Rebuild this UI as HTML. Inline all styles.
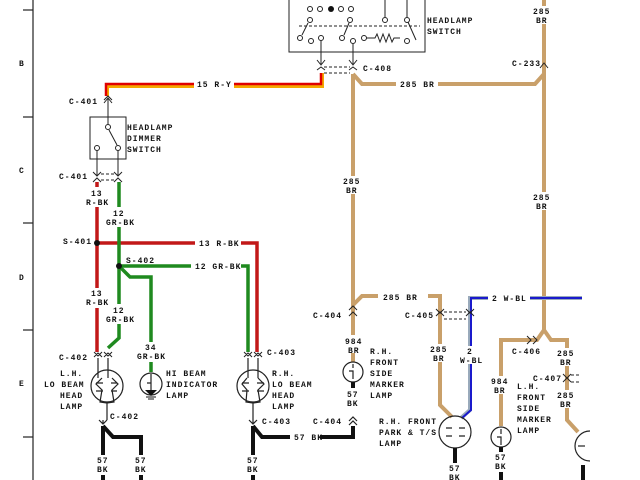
<!DOCTYPE html>
<html><head><meta charset="utf-8"><style>
html,body{margin:0;padding:0;background:#fff}
svg{display:block}
text{font-family:"Liberation Mono",monospace;font-size:8px;font-weight:bold;fill:#111;letter-spacing:1px}
</style></head><body>
<svg width="640" height="480" viewBox="0 0 640 480" xmlns="http://www.w3.org/2000/svg">
<rect width="640" height="480" fill="#fff"/>
<line x1="33" y1="0" x2="33" y2="480" stroke="#222" stroke-width="1.2"/>
<g stroke="#222" stroke-width="1.2">
<line x1="23" y1="10" x2="33" y2="10"/><line x1="23" y1="117" x2="33" y2="117"/>
<line x1="23" y1="223" x2="33" y2="223"/><line x1="23" y1="330" x2="33" y2="330"/>
<line x1="23" y1="437" x2="33" y2="437"/></g>
<text x="19" y="66">B</text><text x="19" y="173">C</text><text x="19" y="280">D</text><text x="19" y="386">E</text>

<g stroke="#222" stroke-width="1" fill="none">
<rect x="289" y="-2" width="136" height="54"/>
<circle cx="310" cy="9" r="2.5"/><circle cx="320" cy="9" r="2.5"/><circle cx="341" cy="9" r="2.5"/><circle cx="351" cy="9" r="2.5"/>
<circle cx="310" cy="20" r="2.5"/><circle cx="350" cy="20" r="2.5"/>
<circle cx="300" cy="38" r="2.5"/><circle cx="311" cy="41" r="2.5"/><circle cx="321" cy="38" r="2.5"/>
<circle cx="342" cy="38" r="2.5"/><circle cx="353" cy="41" r="2.5"/><circle cx="364" cy="38" r="2.5"/>
<circle cx="385" cy="20" r="2.5"/><circle cx="407" cy="20" r="2.5"/><circle cx="407" cy="41" r="2.5"/>
<line x1="302" y1="35" x2="308" y2="23"/><line x1="344" y1="35" x2="349" y2="23"/>
<line x1="385" y1="0" x2="385" y2="17"/><line x1="407" y1="0" x2="407" y2="17"/>
<line x1="408" y1="22" x2="416" y2="40"/>
<path d="M366 38 L375 38 L377 34 L380 42 L383 34 L386 42 L389 34 L392 42 L394 38 L400 38"/>
<line x1="299" y1="26" x2="420" y2="26" stroke-dasharray="3,2"/>
<line x1="321" y1="41" x2="321" y2="64"/><line x1="353" y1="44" x2="353" y2="64"/>
<path d="M317 60 L321 65 L325 60 M349 60 L353 65 L357 60"/>
<path d="M317 70 L321 67 L325 70 M349 70 L353 67 L357 70"/>
<line x1="324" y1="67" x2="350" y2="67" stroke-dasharray="3,2"/><line x1="324" y1="73" x2="350" y2="73" stroke-dasharray="3,2"/>
</g>
<circle cx="331" cy="9" r="3" fill="#111"/>
<text x="427" y="23">HEADLAMP</text><text x="427" y="34">SWITCH</text>
<text x="363" y="71">C-408</text>

<path d="M107 96 L107 86 L322 86 L322 73" fill="none" stroke="#f5a800" stroke-width="4"/>
<path d="M106 96 L106 84 L321 84 L321 73" fill="none" stroke="#e00000" stroke-width="2.5"/>
<rect x="194" y="79" width="40" height="10" fill="#fff"/>
<text x="197" y="87">15 R-Y</text>

<g fill="none" stroke="#c9a06a" stroke-width="4">
<path d="M353 74 L353 298 L353 362"/>
<path d="M353 74 L362 84 L535 84 L544 74 L544 0"/>
<path d="M544 74 L544 330 L537 340 L501 340 L501 426"/>
<path d="M544 330 L551 340 L567 340 L567 420 L578 432"/>
<path d="M353 305 L362 296 L440 296 L440 405 L452 417"/>
</g>
<g fill="#fff"><rect x="342" y="176" width="22" height="18"/><rect x="530" y="6" width="28" height="18"/><rect x="535" y="192" width="20" height="18"/>
<rect x="396" y="79" width="42" height="10"/><rect x="378" y="291" width="50" height="10"/>
<rect x="430" y="344" width="20" height="18"/><rect x="556" y="348" width="20" height="18"/><rect x="556" y="390" width="20" height="18"/>
<rect x="344" y="335" width="20" height="18"/><rect x="491" y="376" width="20" height="18"/></g>
<text x="343" y="184">285</text><text x="346" y="193">BR</text>
<text x="533" y="14">285</text><text x="536" y="23">BR</text>
<text x="533" y="200">285</text><text x="536" y="209">BR</text>
<text x="400" y="87">285 BR</text>
<text x="383" y="300">285 BR</text>
<text x="430" y="352">285</text><text x="433" y="361">BR</text>
<text x="557" y="356">285</text><text x="560" y="365">BR</text>
<text x="557" y="398">285</text><text x="560" y="407">BR</text>
<text x="345" y="344">984</text><text x="348" y="353">BR</text>
<text x="491" y="384">984</text><text x="494" y="393">BR</text>
<path d="M540 68 L544 63 L548 68" fill="none" stroke="#222"/>
<text x="512" y="66">C-233</text>

<path d="M582 298 L470 298 L470 410 L461 418" fill="none" stroke="#9ab" stroke-width="4"/>
<path d="M582 298 L471 298 L471 410 L462 418" fill="none" stroke="#1a1acc" stroke-width="2"/>
<rect x="488" y="293" width="42" height="10" fill="#fff"/>
<text x="492" y="301">2 W-BL</text>
<rect x="462" y="346" width="20" height="18" fill="#fff"/>
<text x="467" y="354">2</text><text x="460" y="363">W-BL</text>

<g fill="none" stroke="#222">
<path d="M436 309 L440 313 L444 309 M436 316 L440 312 L444 316 M466 309 L470 313 L474 309 M466 316 L470 312 L474 316"/>
<line x1="444" y1="312" x2="466" y2="312" stroke-dasharray="3,2"/><line x1="444" y1="319" x2="466" y2="319" stroke-dasharray="3,2"/>
<path d="M349 310 L353 306 L357 310 M349 316 L353 312 L357 316"/>
<path d="M527 336 L531 340 L527 344 M533 336 L537 340 L533 344"/>
<path d="M563 374 L567 378 L571 374 M563 382 L567 378 L571 382"/>
<line x1="571" y1="375" x2="580" y2="375" stroke-dasharray="3,2"/><line x1="571" y1="382" x2="580" y2="382" stroke-dasharray="3,2"/>
</g>
<text x="405" y="318">C-405</text><text x="313" y="318">C-404</text>
<text x="512" y="354">C-406</text><text x="533" y="381">C-407</text>

<g stroke="#222" stroke-width="1" fill="none">
<rect x="90" y="117" width="36" height="42"/>
<circle cx="108" cy="127" r="2.5"/><circle cx="97" cy="148" r="2.5"/><circle cx="118" cy="148" r="2.5"/>
<line x1="109" y1="130" x2="117" y2="145"/>
<line x1="108" y1="124" x2="108" y2="98"/><path d="M104 103 L108 98 L112 103 M104 100 L108 96 L112 100"/>
<line x1="97" y1="151" x2="97" y2="176"/><line x1="118" y1="151" x2="118" y2="176"/>
<path d="M93 172 L97 176 L101 172 M114 172 L118 176 L122 172 M93 182 L97 178 L101 182 M114 182 L118 178 L122 182"/>
<line x1="101" y1="174" x2="114" y2="174" stroke-dasharray="3,2"/><line x1="101" y1="180" x2="114" y2="180" stroke-dasharray="3,2"/>
</g>
<text x="127" y="130">HEADLAMP</text><text x="127" y="141">DIMMER</text><text x="127" y="152">SWITCH</text>
<text x="69" y="104">C-401</text><text x="59" y="179">C-401</text>

<g fill="none" stroke-width="3.5">
<path d="M97 182 L97 352" stroke="#c21818"/>
<path d="M97 243 L257 243 L257 352" stroke="#c21818"/>
<path d="M119 182 L119 338 L108 348" stroke="#1f8a1f"/>
<path d="M119 266 L248 266 L248 352" stroke="#1f8a1f"/>
<path d="M119 266 L130 277 L151 277 L151 372" stroke="#1f8a1f"/>
</g>
<circle cx="97" cy="243" r="3" fill="#111"/><circle cx="119" cy="266" r="3" fill="#111"/>
<g fill="#fff"><rect x="86" y="187" width="22" height="20"/><rect x="108" y="207" width="26" height="20"/>
<rect x="195" y="238" width="46" height="10"/><rect x="191" y="261" width="50" height="10"/>
<rect x="86" y="288" width="22" height="20"/><rect x="108" y="304" width="26" height="20"/><rect x="140" y="342" width="24" height="20"/></g>
<text x="91" y="196">13</text><text x="86" y="205">R-BK</text>
<text x="113" y="216">12</text><text x="106" y="225">GR-BK</text>
<text x="199" y="246">13 R-BK</text><text x="195" y="269">12 GR-BK</text>
<text x="91" y="296">13</text><text x="86" y="305">R-BK</text>
<text x="113" y="313">12</text><text x="106" y="322">GR-BK</text>
<text x="145" y="350">34</text><text x="137" y="359">GR-BK</text>
<text x="63" y="244">S-401</text><text x="126" y="263">S-402</text>

<g fill="none" stroke="#222">
<path d="M94 352 L98 356 L102 352 M104 352 L108 356 L112 352 M94 357 L98 353 L102 357 M104 357 L108 353 L112 357"/>
<path d="M244 352 L248 356 L252 352 M254 352 L258 356 L262 352 M244 357 L248 353 L252 357 M254 357 L258 353 L262 357"/>
</g>
<text x="59" y="360">C-402</text><text x="267" y="355">C-403</text>

<g fill="none" stroke="#222" stroke-width="1.2">
<circle cx="107" cy="386" r="16"/><circle cx="253" cy="386" r="16"/>
<circle cx="151" cy="384" r="11"/><circle cx="353" cy="372" r="10"/>
<circle cx="455" cy="432" r="16"/><circle cx="501" cy="437" r="10"/>
<path d="M98 358 L98 378 M108 358 L108 378 M102 378 L96 384 L102 390 L100 402 L107 403 M112 378 L118 384 L112 390 L114 402 L107 403 L107 420"/>
<path d="M248 358 L248 378 M258 358 L258 378 M247 378 L242 384 L247 390 L246 402 L253 403 M258 378 L264 384 L258 390 L260 402 L253 403 L253 420"/>
<path d="M96 383 L103 383 M96 391 L103 391 M111 383 L117 383 M111 391 L117 391"/>
<path d="M242 383 L249 383 M242 391 L249 391 M257 383 L264 383 M257 391 L264 391"/>
<path d="M151 374 L151 380 M147 383 L151 383 M151 380 L151 392"/>
<path d="M353 364 L353 368 M349 371 L353 371 L353 379"/>
<path d="M501 429 L501 434 M497 437 L501 437 L501 445"/>
<path d="M446 428 L452 428 M446 436 L452 436 M459 428 L465 428 M459 436 L465 436"/>
<path d="M590 431 A15 15 0 0 0 590 461"/>
<path d="M578 446 L585 446"/>
<path d="M103 420 L103 424 M99 420 L103 424 L107 420"/>
<path d="M253 420 L253 424 M249 420 L253 424 L257 420"/>
<path d="M349 425 L353 421 L357 425 M349 421 L353 417 L357 421"/>
</g>
<path d="M145 390 L157 390 L151 396 Z" fill="#111"/><line x1="146" y1="397" x2="156" y2="397" stroke="#111"/><line x1="148" y1="399" x2="154" y2="399" stroke="#111"/>

<text x="60" y="376">L.H.</text><text x="44" y="387">LO BEAM</text><text x="60" y="398">HEAD</text><text x="60" y="409">LAMP</text>
<text x="166" y="376">HI BEAM</text><text x="166" y="387">INDICATOR</text><text x="166" y="398">LAMP</text>
<text x="272" y="376">R.H.</text><text x="272" y="387">LO BEAM</text><text x="272" y="398">HEAD</text><text x="272" y="409">LAMP</text>
<text x="370" y="354">R.H.</text><text x="370" y="365">FRONT</text><text x="370" y="376">SIDE</text><text x="370" y="387">MARKER</text><text x="370" y="398">LAMP</text>
<text x="379" y="424">R.H. FRONT</text><text x="379" y="435">PARK &amp; T/S</text><text x="379" y="446">LAMP</text>
<text x="517" y="389">L.H.</text><text x="517" y="400">FRONT</text><text x="517" y="411">SIDE</text><text x="517" y="422">MARKER</text><text x="517" y="433">LAMP</text>
<text x="110" y="419">C-402</text><text x="262" y="424">C-403</text><text x="313" y="424">C-404</text>

<g fill="none" stroke="#111" stroke-width="4">
<path d="M103 426 L103 480 M103 426 L113 437 L141 437 L141 480"/>
<path d="M253 426 L253 480 M253 426 L262 437 L290 437"/>
<path d="M353 382 L353 388 M353 426 L353 437 L320 437"/>
<path d="M455 448 L455 480 M501 447 L501 452 M501 470 L501 480 M583 465 L583 480"/>
</g>
<g fill="#fff"><rect x="93" y="455" width="20" height="20"/><rect x="131" y="455" width="20" height="20"/><rect x="243" y="455" width="20" height="20"/>
<rect x="445" y="463" width="20" height="20"/><rect x="491" y="452" width="20" height="20"/><rect x="343" y="389" width="20" height="20"/></g>
<text x="97" y="463">57</text><text x="97" y="472">BK</text>
<text x="135" y="463">57</text><text x="135" y="472">BK</text>
<text x="247" y="463">57</text><text x="247" y="472">BK</text>
<text x="449" y="471">57</text><text x="449" y="480">BK</text>
<text x="495" y="460">57</text><text x="495" y="469">BK</text>
<text x="347" y="397">57</text><text x="347" y="406">BK</text>
<text x="294" y="440">57 BK</text>
</svg>
</body></html>
